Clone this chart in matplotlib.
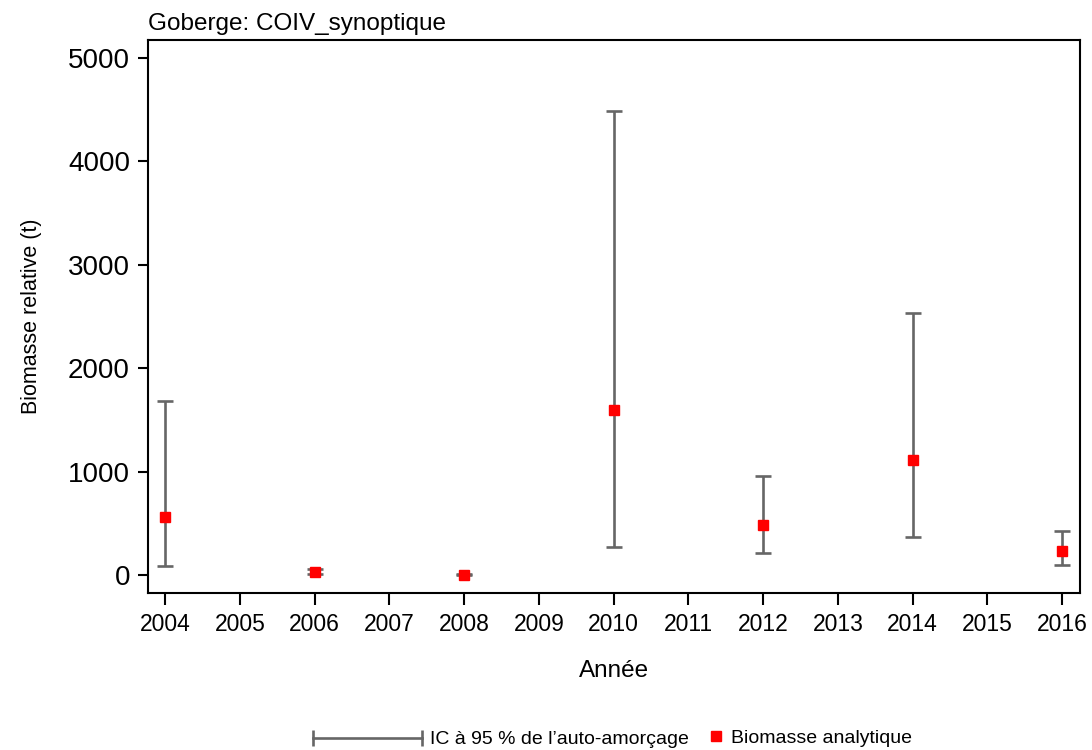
import matplotlib
matplotlib.use('Agg')
import matplotlib.pyplot as plt
from matplotlib.lines import Line2D
from matplotlib.legend_handler import HandlerLine2D

plt.rcParams['font.family'] = ['Liberation Sans', 'DejaVu Sans']

# data
years = [2004, 2006, 2008, 2010, 2012, 2014, 2016]
biomass = [561, 25, 3, 1596, 484, 1112, 232]
ci_low = [87, 5, 0, 271, 213, 367, 97]
ci_high = [1683, 55, 8, 4487, 957, 2534, 425]
xticks = list(range(2004, 2017))
yticks = [0, 1000, 2000, 3000, 4000, 5000]

err_color = '#666666'

fig = plt.figure(figsize=(10.92, 7.5), dpi=100)
ax = fig.add_axes([0.1355, 0.2093, 0.8535, 0.7374])

yerr = [[b - lo for b, lo in zip(biomass, ci_low)],
        [hi - b for b, hi in zip(biomass, ci_high)]]
ax.errorbar(years, biomass, yerr=yerr, fmt='none', ecolor=err_color,
            elinewidth=1.9, capsize=5.5, capthick=1.9, zorder=2)
ax.plot(years, biomass, linestyle='none', marker='s', markersize=7,
        color='#ff0000', zorder=3)

ax.set_xlim(2003.77, 2016.24)
ax.set_ylim(-175, 5175)
ax.set_xticks(xticks)
ax.set_yticks(yticks)
ax.tick_params(axis='y', labelsize=20, direction='out', length=7, width=1.5, pad=6)
ax.tick_params(axis='x', labelsize=16.5, direction='out', length=8.5, width=1.5, pad=6)
for s in ax.spines.values():
    s.set_linewidth(1.5)

ax.set_xlabel('Année', fontsize=17.5, labelpad=17)
ax.set_ylabel('Biomasse relative (t)', fontsize=15.5, labelpad=19)
ax.set_title('Goberge: COIV_synoptique', fontsize=17.5, loc='left', pad=7)

# legend at the bottom
eb_proxy = Line2D([0, 1], [0, 0], color=err_color, linewidth=1.9,
                  marker='|', markersize=12, markeredgewidth=1.9)
pt_proxy = Line2D([], [], linestyle='none', marker='s', markersize=7,
                  color='#ff0000')
fig.legend(handles=[eb_proxy], labels=["IC à 95 % de l’auto-amorçage"],
           handler_map={eb_proxy: HandlerLine2D(numpoints=2)},
           handlelength=6.2, handletextpad=0.15, frameon=False, fontsize=14,
           loc='center left', bbox_to_anchor=(0.281, 0.014),
           borderpad=0, borderaxespad=0)
fig.legend(handles=[pt_proxy], labels=['Biomasse analytique'],
           handlelength=0.7, handletextpad=0.45, frameon=False, fontsize=14,
           loc='center left', bbox_to_anchor=(0.649, 0.016),
           borderpad=0, borderaxespad=0)

fig.savefig('out.png', dpi=100)
